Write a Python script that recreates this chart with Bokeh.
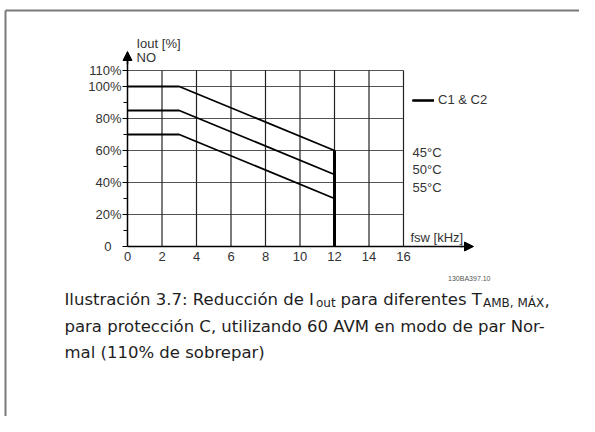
from bokeh.plotting import figure
from bokeh.models import (Range1d, LinearAxis, FixedTicker, Arrow, NormalHead, Label,
                          Legend, LegendItem)
from bokeh.core.properties import value
from bokeh.embed import file_html
from bokeh.resources import INLINE

# ---------------- data ----------------
fsw_khz = [0, 3, 12]
iout_45 = [100, 100, 60]
iout_50 = [85, 85, 45]
iout_55 = [70, 70, 30]
series_labels = ["45°C", "50°C", "55°C"]
fsw_limit = 12
x_ticks = [0, 2, 4, 6, 8, 10, 12, 14, 16]
y_ticks = [0, 20, 40, 60, 80, 100, 110]
y_minor = [10, 30, 50, 70, 90]
y_tick_labels = ["0", "20%", "40%", "60%", "80%", "100%", "110%"]
legend_label = "C1 & C2"

# ---------------- layout helpers ----------------
W, H = 579, 416
X0_REF, Y0_REF = 127, 246      # pixel position of the origin
PX_X = 17.25                   # px per kHz
PX_Y = 1.6                     # px per %
FL, FB = 0, 0                  # frame covers the whole canvas


def dx(rx):
    return (rx - X0_REF) / PX_X


def dy(ry):
    return (Y0_REF - ry) / PX_Y


FONT = "Liberation Sans"
TXT = "#333333"

p = figure(width=W, height=H,
           x_range=Range1d(dx(FL), dx(W)), y_range=Range1d(dy(H - FB), dy(0)),
           output_backend="svg", toolbar_location=None,
           min_border_left=FL, min_border_right=0, min_border_top=0,
           min_border_bottom=FB, x_axis_type=None, y_axis_type=None)
p.outline_line_color = None
p.background_fill_color = "white"
p.border_fill_color = "white"

# page frame lines (left and top)
p.segment(x0=[dx(5), dx(5)], y0=[dy(10), dy(10)], x1=[dx(W), dx(5)], y1=[dy(10), dy(H)],
          line_color="#7a7a7a", line_width=2)

# axes (fixed at the origin)
xaxis = LinearAxis(ticker=FixedTicker(ticks=x_ticks), bounds=(0, dx(462)), fixed_location=0)
xaxis.axis_line_width = 1.5
xaxis.axis_line_color = "black"
xaxis.major_tick_out = 0
xaxis.major_tick_in = 0
xaxis.minor_tick_out = 0
xaxis.minor_tick_in = 0
xaxis.major_label_text_font = FONT
xaxis.major_label_text_font_size = "13px"
xaxis.major_label_text_color = TXT
xaxis.major_label_standoff = 5
p.add_layout(xaxis, "below")

yaxis = LinearAxis(ticker=FixedTicker(ticks=y_ticks, minor_ticks=y_minor),
                   bounds=(0, dy(60)), fixed_location=0)
yaxis.major_label_overrides = {t: (lab if t != 0 else "") for t, lab in zip(y_ticks, y_tick_labels)}
yaxis.axis_line_width = 1.5
yaxis.axis_line_color = "black"
yaxis.major_tick_out = 5
yaxis.major_tick_in = 0
yaxis.minor_tick_out = 4
yaxis.minor_tick_in = 0
yaxis.major_tick_line_color = "black"
yaxis.minor_tick_line_color = "black"
yaxis.major_label_text_font = FONT
yaxis.major_label_text_font_size = "13px"
yaxis.major_label_text_color = TXT
yaxis.major_label_standoff = 1
p.add_layout(yaxis, "left")

# the "0" label of the y axis sits further from the axis
zero_axis = LinearAxis(ticker=FixedTicker(ticks=[y_ticks[0]]), fixed_location=0)
zero_axis.major_label_overrides = {y_ticks[0]: y_tick_labels[0]}
zero_axis.axis_line_color = None
zero_axis.major_tick_line_color = None
zero_axis.minor_tick_line_color = None
zero_axis.major_tick_out = 0
zero_axis.major_label_text_font = FONT
zero_axis.major_label_text_font_size = "13px"
zero_axis.major_label_text_color = TXT
zero_axis.major_label_standoff = 16
p.add_layout(zero_axis, "left")

# arrows on axes
p.add_layout(Arrow(end=NormalHead(size=9, fill_color="black", line_color="black", line_width=1),
                   x_start=dx(460), y_start=0, x_end=dx(473), y_end=0,
                   line_width=1.5, line_color="black"))
p.add_layout(Arrow(end=NormalHead(size=9, fill_color="black", line_color="black", line_width=1),
                   x_start=0, y_start=dy(64), x_end=0, y_end=dy(51),
                   line_width=1.5, line_color="black"))

# grid lines
h_grid = [t for t in y_ticks if t > 0]
v_grid = [t for t in x_ticks if t > 0]
p.segment(x0=[0] * len(h_grid), y0=h_grid, x1=[x_ticks[-1]] * len(h_grid), y1=h_grid,
          line_color="#555555", line_width=1.2)
p.segment(x0=v_grid, y0=[0] * len(v_grid), x1=v_grid, y1=[y_ticks[-1]] * len(v_grid),
          line_color="#222222", line_width=1.2)

# curves
renderers = []
for ys in (iout_45, iout_50, iout_55):
    renderers.append(p.line(fsw_khz, ys, line_color="black", line_width=1.8))
p.segment(x0=[fsw_limit], y0=[0], x1=[fsw_limit], y1=[iout_45[-1]],
          line_color="black", line_width=3)

legend = Legend(items=[LegendItem(label=legend_label, renderers=renderers)],
                location=(412 - FL, (H - FB) - 107), orientation="vertical")
legend.background_fill_alpha = 0
legend.border_line_color = None
legend.padding = 0
legend.margin = 0
legend.spacing = 0
legend.glyph_width = 22
legend.glyph_height = 14
legend.label_height = 14
legend.label_standoff = 4
legend.label_text_font = FONT
legend.label_text_font_size = "13px"
legend.label_text_color = TXT
p.add_layout(legend)

# temperature labels
p.text(x=[dx(412)] * 3, y=[dy(152), dy(169), dy(187)], text=series_labels,
       text_font=value(FONT), text_font_size="13px", text_color=TXT,
       text_baseline="middle", text_align="left")

# axis titles
p.text(x=[dx(136), dx(136), dx(410)], y=[dy(43), dy(56.5), dy(236.5)],
       text=["Iout [%]", "NO", "fsw [kHz]"],
       text_font=value(FONT), text_font_size="13px", text_color=TXT,
       text_baseline="middle", text_align="left")

# figure code
p.add_layout(Label(x=dx(490), y=dy(278), text="130BA397.10", text_font=FONT,
                   text_font_size="7px", text_color="#555555", text_align="right",
                   text_baseline="alphabetic"))

# caption
CAP = "DejaVu Sans"
CS = "16.5px"
SS = "12px"
CC = "#1e1e1e"
b1, b2, b3 = 299, 325.5, 352
cx = 64
cap_parts = [
    (cx, b1, "Ilustración 3.7: Reducción de I", CS),
    (cx + 251.5, b1 + 3.5, "out", SS),
    (cx + 276, b1, "para diferentes T", CS),
    (cx + 418.5, b1 + 3.5, "AMB, MÁX", SS),
    (cx + 480, b1, ",", CS),
    (cx, b2, "para protección C, utilizando 60 AVM en modo de par Nor-", CS),
    (cx, b3, "mal (110% de sobrepar)", CS),
]
for rx, ry, t, fs in cap_parts:
    p.add_layout(Label(x=dx(rx), y=dy(ry), text=t, text_font=CAP, text_font_size=fs,
                       text_color=CC, text_align="left", text_baseline="alphabetic"))

open("out.html", "w").write(file_html(p, INLINE))
